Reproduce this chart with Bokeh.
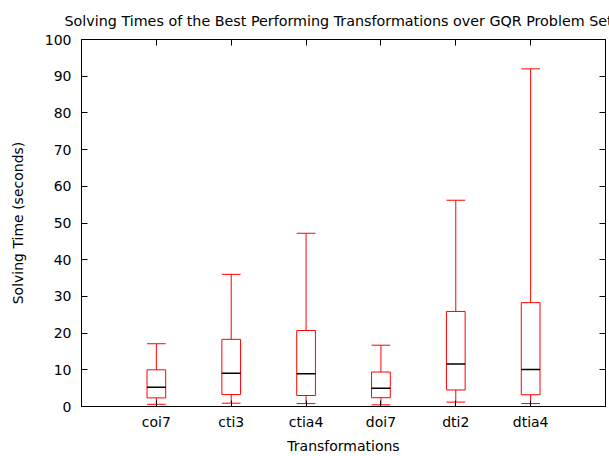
from bokeh.plotting import figure
from bokeh.models import LinearAxis, FixedTicker, Range1d, ColumnDataSource
from bokeh.embed import file_html
from bokeh.resources import INLINE

categories = ["coi7", "cti3", "ctia4", "doi7", "dti2", "dtia4"]
whisker_low = [0.6, 0.9, 0.8, 0.45, 1.2, 0.8]
q1 = [2.35, 3.25, 3.0, 2.4, 4.5, 3.2]
median = [5.25, 9.05, 8.9, 5.0, 11.6, 10.1]
q3 = [10.0, 18.3, 20.7, 9.4, 25.9, 28.3]
whisker_high = [17.1, 36.0, 47.2, 16.7, 56.2, 92.0]
y_ticks = [0, 10, 20, 30, 40, 50, 60, 70, 80, 90, 100]

FONT = "DejaVu Sans"
FS = "14px"
half = 0.125
xs = [i + 1 for i in range(len(categories))]
src = ColumnDataSource(dict(
    x=xs, left=[x - half for x in xs], right=[x + half for x in xs],
    lo=whisker_low, q1=q1, med=median, q3=q3, hi=whisker_high,
))

p = figure(width=609, height=456, output_backend="svg", toolbar_location=None,
           x_range=Range1d(0, len(categories) + 1), y_range=Range1d(0, 100),
           min_border_left=81, min_border_right=4, min_border_top=39, min_border_bottom=49,
           title="Solving Times of the Best Performing Transformations over GQR Problem Set")
p.title.text_font = FONT
p.title.text_font_size = "14.3px"
p.title.text_font_style = "normal"
p.title.align = "left"
p.title.offset = -17
p.title.standoff = 17
p.title.vertical_align = "top"
p.title.text_line_height = 0.6
p.title.text_color = "black"

p.xgrid.visible = False
p.ygrid.visible = False
p.outline_line_color = "black"
p.outline_line_width = 1
p.background_fill_color = "white"
p.border_fill_color = "white"

def style_axis(ax):
    ax.axis_line_color = "black"
    ax.major_tick_in = 6
    ax.major_tick_out = 0
    ax.minor_tick_line_color = None
    ax.major_tick_line_color = "black"
    ax.major_label_text_font = FONT
    ax.major_label_text_font_size = FS
    ax.major_label_text_color = "black"
    ax.axis_label_text_font = FONT
    ax.axis_label_text_font_size = FS
    ax.axis_label_text_font_style = "normal"
    ax.axis_label_text_color = "black"

xax = p.xaxis[0]
style_axis(xax)
xax.ticker = FixedTicker(ticks=xs)
xax.major_label_overrides = {x: c for x, c in zip(xs, categories)}
xax.axis_label = "Transformations"
xax.major_label_standoff = 7
xax.axis_label_standoff = 5

yax = p.yaxis[0]
style_axis(yax)
yax.ticker = FixedTicker(ticks=y_ticks)
yax.axis_label = "Solving Time (seconds)"
yax.major_label_standoff = 10
yax.axis_label_standoff = 16

top = LinearAxis(ticker=FixedTicker(ticks=xs))
style_axis(top)
top.major_label_overrides = {x: "" for x in xs}
top.major_label_standoff = 0
p.add_layout(top, "above")

right = LinearAxis(ticker=FixedTicker(ticks=y_ticks))
style_axis(right)
right.major_label_overrides = {t: "" for t in y_ticks}
right.major_label_standoff = 0
p.add_layout(right, "right")

RED = "#ff0000"
p.segment(x0="x", y0="q3", x1="x", y1="hi", source=src, line_color=RED, line_width=1)
p.segment(x0="x", y0="lo", x1="x", y1="q1", source=src, line_color=RED, line_width=1)
p.segment(x0="left", y0="hi", x1="right", y1="hi", source=src, line_color=RED, line_width=1)
p.segment(x0="left", y0="lo", x1="right", y1="lo", source=src, line_color=RED, line_width=1)
p.quad(left="left", right="right", bottom="q1", top="q3", source=src,
       fill_color=None, line_color=RED, line_width=1)
p.segment(x0="left", y0="med", x1="right", y1="med", source=src, line_color="black", line_width=1.5)

open("out.html", "w").write(file_html(p, INLINE))
